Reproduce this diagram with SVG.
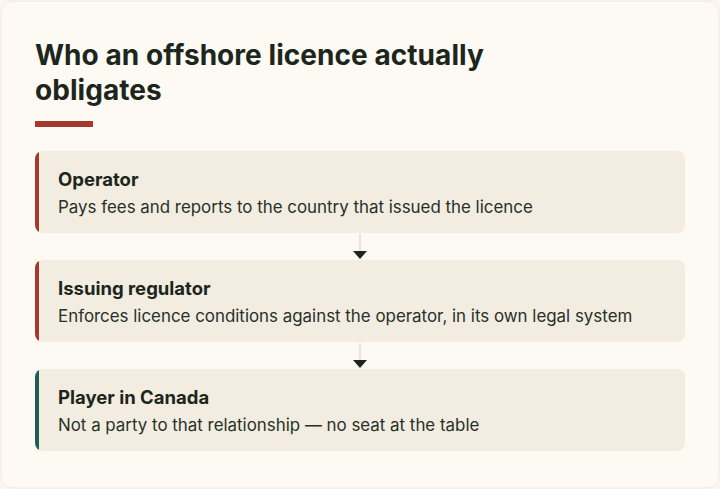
<svg xmlns="http://www.w3.org/2000/svg" width="720" height="489" viewBox="0 0 720 489">
<defs>
<style>
.title{font-family:Inter,"Noto Sans",sans-serif;font-weight:700;font-size:28px;fill:#1c261d;letter-spacing:0.05px}
.head{font-family:Inter,"Noto Sans",sans-serif;font-weight:700;font-size:18.5px;fill:#1c261d}
.body{font-family:Inter,"Noto Sans",sans-serif;font-weight:400;font-size:16.9px;fill:#27302a}
.card{fill:#f3ede1}
.conn{stroke:#eadbd6;stroke-width:1.5;fill:none}
</style>
<clipPath id="c1"><rect x="35" y="151" width="650" height="82" rx="8"/></clipPath>
<clipPath id="c2"><rect x="35" y="260" width="650" height="82" rx="8"/></clipPath>
<clipPath id="c3"><rect x="35" y="369" width="650" height="82" rx="8"/></clipPath>
</defs>
<rect x="0" y="0" width="720" height="489" fill="#fbf5ef"/>
<rect x="1" y="1" width="718" height="487" rx="12" fill="#fdf9f3" stroke="#f3e9e2" stroke-width="1"/>
<text class="title" x="35" y="65">Who an offshore licence actually</text>
<text class="title" x="35" y="100">obligates</text>
<rect x="35" y="121" width="58" height="6" fill="#a13a2c"/>
<g id="connectors">
<line class="conn" x1="360" y1="234" x2="360" y2="251"/>
<path d="M353 251 L367 251 L360 259 Z" fill="#1c261d"/>
<line class="conn" x1="360" y1="343" x2="360" y2="360"/>
<path d="M353 360 L367 360 L360 368 Z" fill="#1c261d"/>
</g>
<g id="operator">
<g clip-path="url(#c1)">
<rect class="card" x="35" y="151" width="650" height="82"/>
<rect x="35" y="151" width="4" height="82" fill="#a13a2c"/>
</g>
<text class="head" x="58" y="186">Operator</text>
<text class="body" x="58" y="213">Pays fees and reports to the country that issued the licence</text>
</g>
<g id="regulator">
<g clip-path="url(#c2)">
<rect class="card" x="35" y="260" width="650" height="82"/>
<rect x="35" y="260" width="4" height="82" fill="#a13a2c"/>
</g>
<text class="head" x="58" y="295">Issuing regulator</text>
<text class="body" x="58" y="322">Enforces licence conditions against the operator, in its own legal system</text>
</g>
<g id="player">
<g clip-path="url(#c3)">
<rect class="card" x="35" y="369" width="650" height="82"/>
<rect x="35" y="369" width="4" height="82" fill="#1d5e57"/>
</g>
<text class="head" x="58" y="404">Player in Canada</text>
<text class="body" x="58" y="431">Not a party to that relationship — no seat at the table</text>
</g>
</svg>
